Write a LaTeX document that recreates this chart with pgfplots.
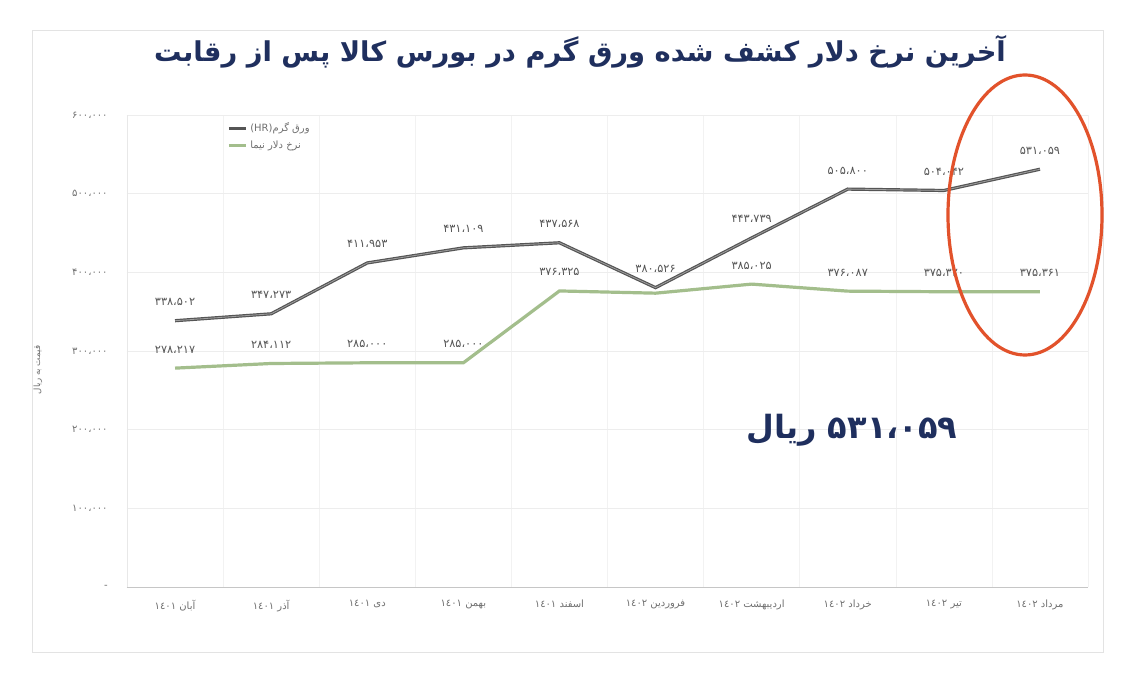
\documentclass[border=0pt]{standalone}
\usepackage{pgfplots}
\pgfplotsset{compat=1.18}
\usepackage{fontspec}
\setmainfont{DejaVu Sans}
\newfontfamily\arabicfont[Script=Arabic]{DejaVu Sans}
\TeXXeTstate=1
\definecolor{navy}{HTML}{1F2F5E}
\definecolor{hrc}{HTML}{555555}
\definecolor{nima}{HTML}{A3BE8C}
\definecolor{ell}{HTML}{E2522B}
\definecolor{tickc}{HTML}{707070}
\begin{document}
\begin{tikzpicture}[x=0.75pt,y=0.75pt]
\fill[white] (0,0) rectangle (1136,678);
\draw[gray!22] (32,26) rectangle (1103,648);
\begin{axis}[
  at={(95.25pt,68.25pt)}, anchor=south west,
  width=720.75pt, height=354pt, scale only axis,
  xmin=-0.5, xmax=9.5, ymin=0, ymax=600000,
  separate axis lines,
  axis x line*=bottom, axis y line*=left,
  x axis line style={gray!45,-},
  y axis line style={gray!18,-},
  major tick length=0pt, minor tick length=0pt,
  xtick={0,...,9},
  xticklabels={
    {\beginR آبان \beginL١٤٠١\endL\endR},
    {\beginR آذر \beginL١٤٠١\endL\endR},
    {\beginR دی \beginL١٤٠١\endL\endR},
    {\beginR بهمن \beginL١٤٠١\endL\endR},
    {\beginR اسفند \beginL١٤٠١\endL\endR},
    {\beginR فروردین \beginL١٤٠٢\endL\endR},
    {\beginR اردیبهشت \beginL١٤٠٢\endL\endR},
    {\beginR خرداد \beginL١٤٠٢\endL\endR},
    {\beginR تیر \beginL١٤٠٢\endL\endR},
    {\beginR مرداد \beginL١٤٠٢\endL\endR}},
  xticklabel style={font=\arabicfont\fontsize{7.5}{9}\selectfont, text=tickc, yshift=-6pt},
  minor xtick={-0.5,0.5,1.5,2.5,3.5,4.5,5.5,6.5,7.5,8.5,9.5},
  xminorgrids, minor grid style={gray!10},
  ytick={0,100000,200000,300000,400000,500000,600000},
  yticklabels={-,۱۰۰،۰۰۰,۲۰۰،۰۰۰,۳۰۰،۰۰۰,۴۰۰،۰۰۰,۵۰۰،۰۰۰,۶۰۰،۰۰۰},
  yticklabel style={font=\arabicfont\fontsize{7.5}{9}\selectfont, text=tickc, xshift=-11pt},
  scaled y ticks=false,
  ymajorgrids, major grid style={gray!14},
  legend style={draw=none, fill=none, at={(0.1,0.995)}, anchor=north west,
    font=\arabicfont\fontsize{7.5}{9}\selectfont, text=tickc, row sep=1pt},
  legend cell align=left,
  legend image code/.code={\draw[#1, line width=2.2pt] (0pt,0pt) -- (13pt,0pt);},
  point meta=explicit symbolic,
  nodes near coords,
  nodes near coords style={font=\arabicfont\fontsize{8.5}{10}\selectfont, text=hrc, anchor=south, inner sep=0pt, yshift=10pt},
]
\addplot[color=hrc, line width=2.4pt, no marks] coordinates {
  (0,338502) [۳۳۸،۵۰۲]
  (1,347273) [۳۴۷،۲۷۳]
  (2,411953) [۴۱۱،۹۵۳]
  (3,431109) [۴۳۱،۱۰۹]
  (4,437568) [۴۳۷،۵۶۸]
  (5,380526) [۳۸۰،۵۲۶]
  (6,443739) [۴۴۳،۷۳۹]
  (7,505800) [۵۰۵،۸۰۰]
  (8,504042) [۵۰۴،۰۴۲]
  (9,531059) [۵۳۱،۰۵۹]
};
\addlegendentry{\beginR ورق گرم\beginL(HR)\endL\endR}
\addplot[color=nima, line width=2.4pt, no marks] coordinates {
  (0,278217) [۲۷۸،۲۱۷]
  (1,284112) [۲۸۴،۱۱۲]
  (2,285000) [۲۸۵،۰۰۰]
  (3,285000) [۲۸۵،۰۰۰]
  (4,376325) [۳۷۶،۳۲۵]
  (5,373500) []
  (6,385025) [۳۸۵،۰۲۵]
  (7,376087) [۳۷۶،۰۸۷]
  (8,375320) [۳۷۵،۳۲۰]
  (9,375361) [۳۷۵،۳۶۱]
};
\addlegendentry{\beginR نرخ دلار نیما\endR}
\addplot[color=gray!75, line width=0.6pt, no marks, nodes near coords={}, forget plot] coordinates {
  (0,338502) [] (1,347273) [] (2,411953) [] (3,431109) [] (4,437568) []
  (5,380526) [] (6,443739) [] (7,505800) [] (8,504042) [] (9,531059) []
};
\end{axis}
\node[rotate=90, font=\arabicfont\fontsize{6.5}{8}\selectfont, text=tickc] at (38,308) {\beginR قیمت به ریال\endR};
\node[font=\arabicfont\bfseries\fontsize{20.5}{24}\selectfont, text=navy] at (580,626) {\beginR آخرین نرخ دلار کشف شده ورق گرم  در بورس کالا پس از رقابت\endR};
\node[font=\arabicfont\bfseries\fontsize{24}{28}\selectfont, text=navy] at (852,248) {\beginR\beginL۵۳۱،۰۵۹\endL{} ریال\endR};
\draw[ell, line width=2.4pt] (1025,463) ellipse [x radius=77, y radius=140];
\end{tikzpicture}
\end{document}
